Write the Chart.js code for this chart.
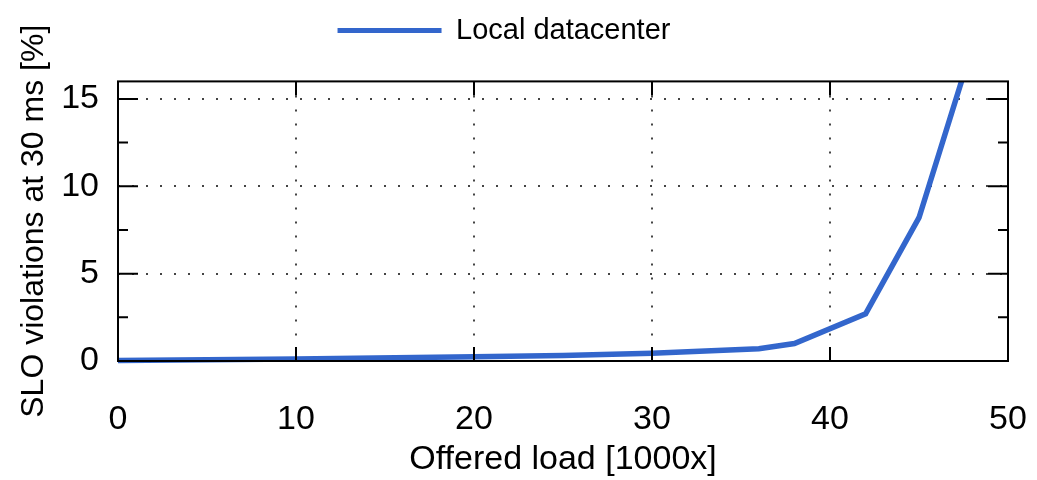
<!DOCTYPE html>
<html>
<head>
<meta charset="utf-8">
<title>SLO violations vs offered load</title>
<script src="https://cdn.jsdelivr.net/npm/chart.js@4.4.1/dist/chart.umd.min.js"></script>
<style>
    html, body { margin: 0; padding: 0; background: #fff; }
    #wrap { width: 1037px; height: 480px; position: relative; }
</style>
</head>
<body>
<div id="wrap"><canvas id="sloChart"></canvas></div>
<script>
// Values
const seriesName = 'Local datacenter';
const loads = [0, 10, 20, 25, 30, 36, 38, 42, 45, 48];          // offered load [1000x]
const violations = [0.03, 0.12, 0.25, 0.32, 0.45, 0.7, 1.0, 2.7, 8.2, 18]; // SLO violations [%]
const xTicks = [0, 10, 20, 30, 40, 50];
const yTicks = [0, 5, 10, 15];
const yMinorTicks = [2.5, 7.5, 12.5];

const FONT = '"Liberation Sans", Arial, Helvetica, sans-serif';
Chart.defaults.font.family = FONT;
Chart.defaults.color = '#000';

// Dotted grid only between the frame edges
function innerGrid(ticks) {
    return function(ctx) {
        const v = ctx.tick && ctx.tick.value;
        if (v === ticks[0] || v === ticks[ticks.length - 1]) return 'rgba(0,0,0,0)';
        return '#444';
    };
}

// Solid frame plus inward tick marks (gnuplot style)
const framePlugin = {
    id: 'frame',
    afterDatasetsDraw(chart) {
        const { ctx, chartArea: a, scales: { x, y } } = chart;
        ctx.save();
        ctx.strokeStyle = '#000';
        ctx.lineWidth = 2;
        ctx.strokeRect(a.left, a.top, a.right - a.left, a.bottom - a.top);
        ctx.beginPath();
        xTicks.forEach(v => {
            const px = x.getPixelForValue(v);
            ctx.moveTo(px, a.bottom); ctx.lineTo(px, a.bottom - 14);
            ctx.moveTo(px, a.top); ctx.lineTo(px, a.top + 14);
        });
        yTicks.forEach(v => {
            const py = y.getPixelForValue(v);
            ctx.moveTo(a.left, py); ctx.lineTo(a.left + 20, py);
            ctx.moveTo(a.right, py); ctx.lineTo(a.right - 20, py);
        });
        yMinorTicks.forEach(v => {
            const py = y.getPixelForValue(v);
            ctx.moveTo(a.left, py); ctx.lineTo(a.left + 10, py);
            ctx.moveTo(a.right, py); ctx.lineTo(a.right - 10, py);
        });
        ctx.stroke();
        ctx.restore();
    }
};

const ctx = document.getElementById('sloChart').getContext('2d');
new Chart(ctx, {
    type: 'line',
    data: {
        datasets: [{
            label: seriesName,
            data: loads.map((v, i) => ({ x: v, y: violations[i] })),
            borderColor: '#3366cc',
            backgroundColor: '#3366cc',
            borderWidth: 5.5,
            pointRadius: 0,
            tension: 0,
            fill: false,
            clip: { left: 5, right: 0, top: 0, bottom: 5 }
        }]
    },
    options: {
        responsive: true,
        maintainAspectRatio: false,
        animation: false,
        layout: { padding: { top: 6, right: 29, left: 0, bottom: 0 } },
        plugins: {
            tooltip: { enabled: false },
            legend: {
                position: 'top',
                labels: {
                    boxWidth: 104,
                    boxHeight: 5,
                    padding: 10,
                    font: { size: 29 },
                    color: '#000',
                    generateLabels: chart => chart.data.datasets.map((ds, i) => ({
                        text: ds.label,
                        fillStyle: ds.borderColor,
                        strokeStyle: ds.borderColor,
                        lineWidth: 0,
                        datasetIndex: i,
                        hidden: false
                    }))
                }
            },
            // blank spacer between legend and plot
            subtitle: {
                display: true,
                text: ' ',
                position: 'top',
                weight: 500,
                font: { size: 22 },
                padding: 0
            }
        },
        scales: {
            x: {
                type: 'linear',
                min: 0,
                max: 50,
                afterBuildTicks: s => { s.ticks = xTicks.map(v => ({ value: v })); },
                afterFit: s => { s.height = 119; s.paddingRight = 0; s.paddingLeft = 0; },
                ticks: { font: { size: 34 }, padding: 38, maxRotation: 0, autoSkip: false },
                grid: { color: innerGrid(xTicks), lineWidth: 2, drawTicks: false },
                border: { display: false, dash: [2, 12] },
                title: {
                    display: true,
                    text: 'Offered load [1000x]',
                    font: { size: 34 },
                    padding: { top: 0, bottom: 0 }
                }
            },
            y: {
                min: 0,
                max: 16,
                afterBuildTicks: s => { s.ticks = yTicks.map(v => ({ value: v })); },
                afterFit: s => { s.width = 118; },
                ticks: { font: { size: 34 }, padding: 19, autoSkip: false },
                grid: { color: innerGrid([0, 16]), lineWidth: 2, drawTicks: false },
                border: { display: false, dash: [2, 12] },
                title: {
                    display: true,
                    text: 'SLO violations at 30 ms [%]',
                    font: { size: 32 },
                    padding: { top: 15, bottom: 0 }
                }
            }
        }
    },
    plugins: [framePlugin]
});
</script>
</body>
</html>
